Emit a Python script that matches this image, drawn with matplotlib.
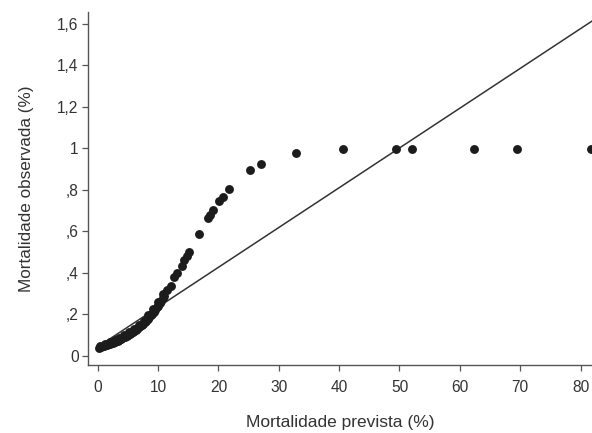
import numpy as np
import matplotlib
matplotlib.use("Agg")
import matplotlib.pyplot as plt

plt.rcParams['font.family'] = ['Liberation Sans', 'DejaVu Sans']

# dense part of the calibration curve (predicted %, observed)
dense_x = [0.2, 0.5, 0.8, 1.0, 1.3, 1.5, 1.8, 2.0, 2.3, 2.5, 2.8, 3.0, 3.3, 3.5, 3.8,
           4.0, 4.3, 4.5, 4.8, 5.0, 5.3, 5.5, 5.8, 6.0, 6.3, 6.5, 6.8, 7.0, 7.3, 7.5,
           7.8, 8.0, 8.3, 8.5, 8.8, 9.0, 9.3, 9.5, 9.8, 10.0, 10.3, 10.5, 10.8, 11.0]
dense_y = [0.040, 0.043, 0.046, 0.048, 0.051, 0.053, 0.056, 0.058, 0.062, 0.064, 0.068,
           0.070, 0.074, 0.077, 0.082, 0.085, 0.090, 0.093, 0.098, 0.101, 0.106, 0.110,
           0.116, 0.120, 0.127, 0.131, 0.138, 0.143, 0.150, 0.156, 0.164, 0.170, 0.180,
           0.186, 0.196, 0.203, 0.214, 0.222, 0.234, 0.243, 0.256, 0.266, 0.280, 0.290]
# slightly offset second row, gives the band its thickness
band_x = [0.4, 1.2, 2.0, 2.8, 3.6, 4.4, 5.2, 6.0, 6.8, 7.6, 8.4, 9.2, 10.0, 10.8]
band_y = [0.050, 0.058, 0.067, 0.077, 0.088, 0.101, 0.115, 0.131, 0.149, 0.170, 0.196,
          0.226, 0.262, 0.300]

# separate points in upper part
pts_x = [11.4, 12.2, 12.7, 13.1, 13.9, 14.35, 14.75, 15.2, 16.8, 18.3, 18.6, 19.15, 20.1,
         20.7, 21.8, 25.2, 27.0, 32.85, 40.6, 49.5, 52.1, 62.3, 69.5, 81.8]
pts_y = [0.320, 0.335, 0.382, 0.399, 0.434, 0.463, 0.482, 0.501, 0.587, 0.664, 0.678,
         0.704, 0.745, 0.764, 0.805, 0.895, 0.925, 0.980, 0.998, 0.998, 0.998, 0.998,
         0.998, 0.998]

# reference line
line_x = [0, 81.9]
line_y = [0.044, 0.044 + 0.01916 * 81.9]

xticks = [0, 10, 20, 30, 40, 50, 60, 70, 80]
yticks = [0, 0.2, 0.4, 0.6, 0.8, 1.0, 1.2, 1.4, 1.6]
ylabels = ['0', ',2', ',4', ',6', ',8', '1', '1,2', '1,4', '1,6']

fig = plt.figure(figsize=(5.92, 4.33), dpi=100)
ax = fig.add_axes([0.1492, 0.1559, 0.8508, 0.8164])

dot = '#1c1c1c'
ax.plot(line_x, line_y, color='#333333', lw=1.1, zorder=2)
ax.plot(dense_x, dense_y, 'o', color=dot, ms=6.4, mew=0, zorder=3)
ax.plot(band_x, band_y, 'o', color=dot, ms=6.4, mew=0, zorder=3)
ax.plot(pts_x, pts_y, 'o', color=dot, ms=6.4, mew=0, zorder=3)

ax.set_xlim(-1.56, 81.9)
ax.set_ylim(-0.0458, 1.657)

ax.set_xticks(xticks)
ax.set_xticklabels([str(t) for t in xticks])
ax.set_yticks(yticks)
ax.set_yticklabels(ylabels)

for s in ['top', 'right']:
    ax.spines[s].set_visible(False)
for s in ['left', 'bottom']:
    ax.spines[s].set_color('#555555')
    ax.spines[s].set_linewidth(1.0)

ax.tick_params(direction='out', length=4.5, width=0.9, color='#555555',
               labelsize=11.2, labelcolor='#333333')
ax.tick_params(axis='y', pad=2.5)
ax.tick_params(axis='x', pad=6)

ax.set_xlabel('Mortalidade prevista (%)', fontsize=12.5, color='#333333', labelpad=14)
ax.set_ylabel('Mortalidade observada (%)', fontsize=12.3, color='#333333', labelpad=17)

fig.savefig('out.png', dpi=100)
